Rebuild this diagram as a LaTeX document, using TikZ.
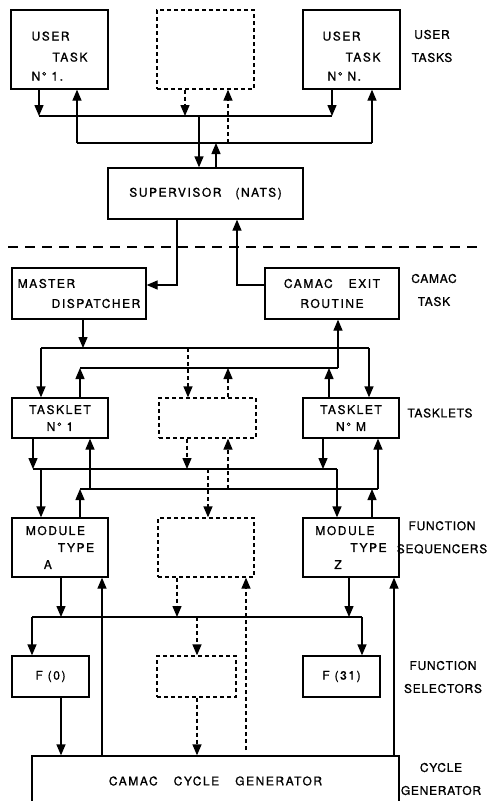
\documentclass[tikz,border=0pt]{standalone}
\usepackage{fontspec}
\setmainfont{TeX Gyre Heros}[LetterSpace=6,FakeBold=1]
\usetikzlibrary{arrows.meta,positioning,calc}

\tikzset{
  unit/.style={draw,line width=1.3pt,inner sep=0pt,align=left,font=\fontsize{12}{17}\selectfont\addfontfeatures{LetterSpace=13}},
  spare/.style={unit,dash pattern=on 4pt off 3pt},
  bus/.style={line width=1.3pt},
  flow/.style={bus,-{Triangle[length=11pt,width=9pt]}},
  dflow/.style={flow,dash pattern=on 4pt off 3pt},
  cut/.style={line width=1.3pt,dash pattern=on 10pt off 7pt},
  tag/.style={align=center,inner sep=0pt,font=\fontsize{12}{23}\selectfont}
}

\begin{document}
\begin{tikzpicture}[x=1pt,y=-1pt]
  \useasboundingbox (0,0) rectangle (489,801);
  \clip (0,0) rectangle (489,801);

  % user tasks
  \node[unit,minimum width=97pt,minimum height=79pt] (ut1) at (59.5,49.5) {\rule{0pt}{22pt}USER\\[4pt]\hspace*{21pt}TASK\\[2pt]N° 1.};
  \node[spare,minimum width=97pt,minimum height=79pt] (utx) at (205.5,49.5) {};
  \node[unit,minimum width=97pt,minimum height=79pt] (utn) at (351.5,49.5) {\rule{0pt}{22pt}USER\\[4pt]\hspace*{23pt}TASK\\[2pt]\hspace*{5pt}N° N.};
  \node[tag] (lut) at (432,46) {USER\\TASKS};

  \node[unit,minimum width=195pt,minimum height=51pt] (sup) at (205.5,193.5) {SUPERVISOR\hspace{14pt}(NATS)};

  \coordinate (a1) at (39,116);
  \coordinate (ax) at (185,116);
  \coordinate (as) at (199,116);
  \coordinate (a2) at (332,116);
  \coordinate (b1) at (77,143);
  \coordinate (bs) at (216,143);
  \coordinate (bx) at (228,143);
  \coordinate (b2) at (372,143);
  \draw[bus] (a1) -- (a2);
  \draw[bus] (b1) -- (b2);
  \draw[flow] (ut1.south -| a1) -- (a1);
  \draw[flow] (b1) -- (ut1.south -| b1);
  \draw[dflow] (utx.south -| ax) -- (ax);
  \draw[dflow] (bx) -- (utx.south -| bx);
  \draw[flow] (utn.south -| a2) -- (a2);
  \draw[flow] (b2) -- (utn.south -| b2);
  \draw[flow] (as) -- (sup.north -| as);
  \draw[flow] (sup.north -| bs) -- (bs);

  % camac task
  \coordinate (cutL) at (8,247);
  \coordinate (cutR) at (477,247);
  \draw[cut] (cutL) -- (cutR);

  \node[unit,minimum width=134pt,minimum height=51pt] (md) at (79,293.5) {MASTER\\[3pt]\hspace*{34pt}DISPATCHER};
  \node[unit,align=center,minimum width=134pt,minimum height=51pt] (cer) at (332,293.5) {CAMAC\hspace{16pt}EXIT\\[3pt]ROUTINE};
  \node[tag] (lct) at (434,290) {CAMAC\\TASK};

  \coordinate (sd) at (177,285);
  \coordinate (se) at (237,285);
  \draw[flow] (sup.south -| sd) -- (sd) -- (md.east |- sd);
  \draw[flow] (cer.west |- se) -- (se) -- (sup.south -| se);

  % tasklets
  \node[unit,align=center,minimum width=96pt,minimum height=40pt] (tk1) at (60,418) {TASKLET\\N° 1};
  \node[spare,minimum width=97pt,minimum height=40pt] (tkx) at (207.5,418) {};
  \node[unit,align=center,minimum width=96pt,minimum height=40pt] (tkm) at (351,418) {TASKLET\\N° M};
  \node[tag] (ltk) at (440,413) {TASKLETS};

  \coordinate (c1) at (41,348);
  \coordinate (cm) at (83,348);
  \coordinate (cx) at (188,348);
  \coordinate (c2) at (369,348);
  \coordinate (d1) at (80,368);
  \coordinate (dx) at (228,368);
  \coordinate (dm) at (329,368);
  \coordinate (d2) at (338,368);
  \draw[bus] (c1) -- (c2);
  \draw[bus] (d1) -- (d2);
  \draw[flow] (md.south -| cm) -- (cm);
  \draw[flow] (c1) -- (tk1.north -| c1);
  \draw[dflow] (cx) -- (tkx.north -| cx);
  \draw[flow] (c2) -- (tkm.north -| c2);
  \draw[flow] (d2) -- (cer.south -| d2);
  \draw[flow] (tk1.north -| d1) -- (d1);
  \draw[dflow] (tkx.north -| dx) -- (dx);
  \draw[flow] (tkm.north -| dm) -- (dm);

  % function sequencers
  \node[unit,minimum width=96pt,minimum height=59pt] (mda) at (60,547.5) {MODULE\\\hspace*{32pt}TYPE\\\hspace*{18pt}A};
  \node[spare,minimum width=96pt,minimum height=59pt] (mdx) at (206,547.5) {};
  \node[unit,minimum width=96pt,minimum height=59pt] (mdz) at (351,547.5) {MODULE\\\hspace*{35pt}TYPE\\\hspace*{19pt}Z};
  \node[tag] (lfs) at (442,537.5) {FUNCTION\\SEQUENCERS};

  \coordinate (e1) at (33,469);
  \coordinate (ea) at (41,469);
  \coordinate (ex1) at (187,469);
  \coordinate (ex2) at (208,469);
  \coordinate (em) at (323,469);
  \coordinate (e2) at (337,469);
  \coordinate (f1) at (80,489);
  \coordinate (fa) at (90,489);
  \coordinate (fx) at (228,489);
  \coordinate (fz) at (372,489);
  \coordinate (f2) at (378,489);
  \draw[bus] (e1) -- (e2);
  \draw[bus] (f1) -- (f2);
  \draw[flow] (tk1.south -| e1) -- (e1);
  \draw[dflow] (tkx.south -| ex1) -- (ex1);
  \draw[flow] (tkm.south -| em) -- (em);
  \draw[flow] (ea) -- (mda.north -| ea);
  \draw[dflow] (ex2) -- (mdx.north -| ex2);
  \draw[flow] (e2) -- (mdz.north -| e2);
  \draw[flow] (fa) -- (tk1.south -| fa);
  \draw[dflow] (fx) -- (tkx.south -| fx);
  \draw[flow] (f2) -- (tkm.south -| f2);
  \draw[flow] (mda.north -| f1) -- (f1);
  \draw[flow] (mdz.north -| fz) -- (fz);

  % function selectors
  \node[unit,minimum width=77pt,minimum height=41pt] (fs0) at (50.5,676.5) {F (0)};
  \node[spare,minimum width=79pt,minimum height=41pt] (fsx) at (196.5,676.5) {};
  \node[unit,minimum width=77pt,minimum height=41pt] (fs31) at (341.5,676.5) {F (31)};
  \node[tag] (lfl) at (443,677) {FUNCTION\\SELECTORS};

  \coordinate (g1) at (32,617);
  \coordinate (ga) at (61,617);
  \coordinate (gx1) at (177,617);
  \coordinate (gx2) at (197,617);
  \coordinate (gz) at (349,617);
  \coordinate (g2) at (362,617);
  \draw[bus] (g1) -- (g2);
  \draw[flow] (mda.south -| ga) -- (ga);
  \draw[dflow] (mdx.south -| gx1) -- (gx1);
  \draw[flow] (mdz.south -| gz) -- (gz);
  \draw[flow] (g1) -- (fs0.north -| g1);
  \draw[dflow] (gx2) -- (fsx.north -| gx2);
  \draw[flow] (g2) -- (fs31.north -| g2);

  % cycle generator
  \node[unit,minimum width=367pt,minimum height=50pt] (ccg) at (215.5,781) {CAMAC\hspace{16pt}CYCLE\hspace{16pt}GENERATOR};
  \node[tag] (lcg) at (441,779) {CYCLE\\GENERATOR};

  \coordinate (ha) at (102,756);
  \coordinate (hx) at (246,750);
  \coordinate (hz) at (394,756);
  \draw[flow] (fs0.south -| ga) -- (ccg.north -| ga);
  \draw[dflow] (fsx.south -| gx2) -- (ccg.north -| gx2);
  \draw[flow] (ha) -- (mda.south -| ha);
  \draw[dflow] (hx) -- (mdx.south -| hx);
  \draw[flow] (hz) -- (mdz.south -| hz);
\end{tikzpicture}
\end{document}
